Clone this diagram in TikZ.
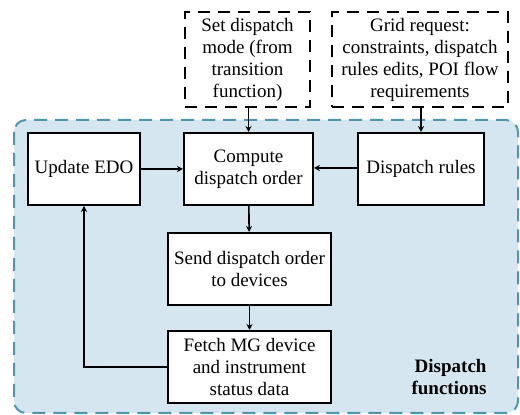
\documentclass[tikz,border=0pt]{standalone}
\usepackage{fontspec}
\setmainfont{LiberationSerif}[Extension=.ttf, UprightFont=*-Regular, BoldFont=*-Bold]
\usetikzlibrary{arrows.meta, positioning}
\definecolor{cRegion}{RGB}{214,230,240}
\definecolor{cRegionEdge}{RGB}{78,150,172}

\begin{document}
\begin{tikzpicture}[
      x=0.5pt, y=-0.5pt,
      box/.style={draw, line width=1pt, fill=white, align=center,
                  minimum height=36pt, inner sep=1pt, font=\fontsize{9.5}{11}\selectfont},
      inbox/.style={draw, line width=1pt, dash pattern=on 6pt off 4pt, align=center,
                  minimum height=47.5pt, inner sep=1pt, font=\fontsize{9.5}{11}\selectfont},
      lbl/.style={font=\fontsize{9.5}{11}\selectfont\bfseries, align=right},
      >={Stealth[length=3pt, width=3pt]}, line width=0.8pt]
    \useasboundingbox (0,0) rectangle (520,415);
    % dispatch functions region
    \draw[fill=cRegion, draw=cRegionEdge, line width=1pt, dash pattern=on 6.5pt off 4pt,
          rounded corners=6pt] (14,120) rectangle (518,413);
    \node[lbl, anchor=south east] (title) at (494,402) {Dispatch\\functions};
    % inputs
    \node[inbox, minimum width=62.5pt] (mode) at (247.5,59.5)
         {Set dispatch\\mode (from\\transition\\function)};
    \node[inbox, minimum width=88pt]   (grid) at (420,59.5)
         {Grid request:\\constraints, dispatch\\rules edits, POI flow\\requirements};
    % functions
    \node[box, minimum width=56pt]   (edo)   at (84,169)    {Update EDO};
    \node[box, minimum width=64.5pt] (order) at (248.5,169) {Compute\\dispatch order};
    \node[box, minimum width=63pt]   (rules) at (421,169)   {Dispatch rules};
    \node[box, minimum width=81.5pt] (send)  at (249.5,269) {Send dispatch order\\to devices};
    \node[box, minimum width=81.5pt] (fetch) at (249.5,367) {Fetch MG device\\and instrument\\status data};
    \draw[->] (mode.south -| order.north) -- (order.north);
    \draw[->] (grid.south -| rules.north) -- (rules.north);
    \draw[->] (edo) -- (order);
    \draw[->] (rules.west |- 0,168) -- (order.east |- 0,168);
    \draw[->] (order) -- (send);
    \draw[->] (send) -- (fetch);
    \draw[->] (fetch.west) -| (edo.south);
\end{tikzpicture}
\end{document}
